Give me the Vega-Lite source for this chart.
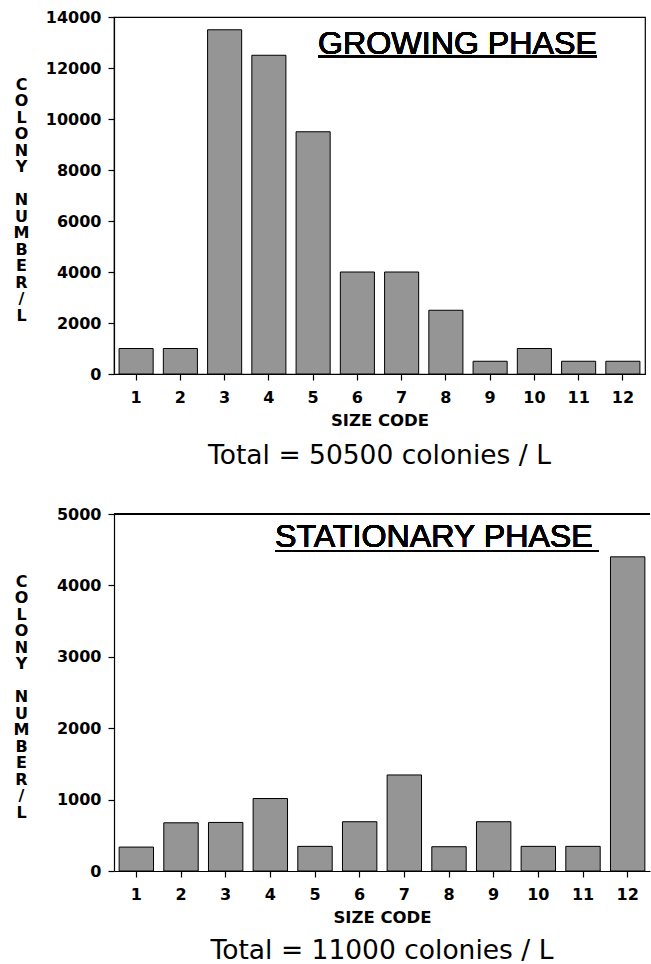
{
  "$schema": "https://vega.github.io/schema/vega-lite/v6.json",
  "background": "white",
  "padding": {"left": 12, "top": 8, "right": 0, "bottom": 0},
  "spacing": 36,
  "config": {
    "font": "DejaVu Sans",
    "axis": {
      "grid": false,
      "domainColor": "black",
      "domainWidth": 1.2,
      "tickColor": "black",
      "tickWidth": 1.2,
      "tickSize": 6,
      "labelColor": "black",
      "labelFont": "DejaVu Sans",
      "labelFontSize": 16,
      "labelFontWeight": "bold",
      "titleColor": "black",
      "titleFont": "DejaVu Sans",
      "titleFontWeight": "bold"
    },
    "axisX": {"labelAngle": 0, "labelPadding": 9, "titleFontSize": 16.5, "titlePadding": 7},
    "axisY": {
      "labelPadding": 7,
      "format": "d",
      "titleAngle": 0,
      "titleAlign": "center",
      "titleBaseline": "top",
      "titleFontSize": 16,
      "titleLineHeight": 16.5,
      "titleX": -93,
      "titleY": 59
    },
    "title": {"font": "DejaVu Sans", "fontSize": 26.5, "fontWeight": "normal", "color": "black", "orient": "bottom", "anchor": "middle", "offset": 14}
  },
  "datasets": {
    "growing": [
      {"code": 1, "colonies": 1000},
      {"code": 2, "colonies": 1000},
      {"code": 3, "colonies": 13500},
      {"code": 4, "colonies": 12500},
      {"code": 5, "colonies": 9500},
      {"code": 6, "colonies": 4000},
      {"code": 7, "colonies": 4000},
      {"code": 8, "colonies": 2500},
      {"code": 9, "colonies": 500},
      {"code": 10, "colonies": 1000},
      {"code": 11, "colonies": 500},
      {"code": 12, "colonies": 500}
    ],
    "stationary": [
      {"code": 1, "colonies": 335},
      {"code": 2, "colonies": 675},
      {"code": 3, "colonies": 680},
      {"code": 4, "colonies": 1015},
      {"code": 5, "colonies": 345},
      {"code": 6, "colonies": 690},
      {"code": 7, "colonies": 1345},
      {"code": 8, "colonies": 340},
      {"code": 9, "colonies": 690},
      {"code": 10, "colonies": 345},
      {"code": 11, "colonies": 345},
      {"code": 12, "colonies": 4400}
    ]
  },
  "vconcat": [
    {
      "width": 531,
      "height": 357,
      "view": {"stroke": "black", "strokeWidth": 1.2},
      "title": {"text": "Total = 50500 colonies / L"},
      "data": {"name": "growing"},
      "layer": [
        {
          "mark": {"type": "bar", "fill": "#959595", "stroke": "black", "strokeWidth": 1},
          "encoding": {
            "x": {
              "field": "code",
              "type": "ordinal",
              "scale": {"paddingInner": 0.23, "paddingOuter": 0.115},
              "axis": {"title": "SIZE CODE"}
            },
            "y": {
              "field": "colonies",
              "type": "quantitative",
              "scale": {"domain": [0, 14000], "nice": false},
              "axis": {
                "values": [0, 2000, 4000, 6000, 8000, 10000, 12000, 14000],
                "title": ["C", "O", "L", "O", "N", "Y", "\u2800", "N", "U", "M", "B", "E", "R", "/", "L"]
              }
            }
          }
        },
        {
          "mark": {"type": "text", "text": "GROWING PHASE", "font": "Liberation Sans", "fontSize": 32.2, "align": "left", "baseline": "alphabetic", "color": "black"},
          "encoding": {
            "x": {"datum": 5, "type": "ordinal", "bandPosition": 0.643},
            "y": {"datum": 12550, "type": "quantitative"}
          }
        },
        {
          "mark": {"type": "rule", "color": "black", "strokeWidth": 1.5},
          "encoding": {
            "x": {"datum": 5, "type": "ordinal", "bandPosition": 0.643},
            "x2": {"datum": 11, "bandPosition": 1.039},
            "y": {"datum": 12450, "type": "quantitative"}
          }
        }
      ]
    },
    {
      "width": 536,
      "height": 357,
      "view": {"stroke": null},
      "title": {"text": "Total = 11000 colonies / L", "offset": 12},
      "data": {"name": "stationary"},
      "layer": [
        {
          "mark": {"type": "bar", "fill": "#959595", "stroke": "black", "strokeWidth": 1},
          "encoding": {
            "x": {
              "field": "code",
              "type": "ordinal",
              "scale": {"paddingInner": 0.23, "paddingOuter": 0.115},
              "axis": {"title": "SIZE CODE"}
            },
            "y": {
              "field": "colonies",
              "type": "quantitative",
              "scale": {"domain": [0, 5000], "nice": false},
              "axis": {
                "values": [0, 1000, 2000, 3000, 4000, 5000],
                "title": ["C", "O", "L", "O", "N", "Y", "\u2800", "N", "U", "M", "B", "E", "R", "/", "L"]
              }
            }
          }
        },
        {
          "mark": {"type": "rule", "color": "black", "strokeWidth": 1.2},
          "encoding": {
            "y": {"datum": 5000, "type": "quantitative"}
          }
        },
        {
          "mark": {"type": "text", "text": "STATIONARY PHASE", "font": "Liberation Sans", "fontSize": 32.2, "align": "left", "baseline": "alphabetic", "color": "black"},
          "encoding": {
            "x": {"datum": 4, "type": "ordinal", "bandPosition": 0.636},
            "y": {"datum": 4538, "type": "quantitative"}
          }
        },
        {
          "mark": {"type": "rule", "color": "black", "strokeWidth": 1.5},
          "encoding": {
            "x": {"datum": 4, "type": "ordinal", "bandPosition": 0.636},
            "x2": {"datum": 11, "bandPosition": 0.965},
            "y": {"datum": 4482, "type": "quantitative"}
          }
        }
      ]
    }
  ]
}
